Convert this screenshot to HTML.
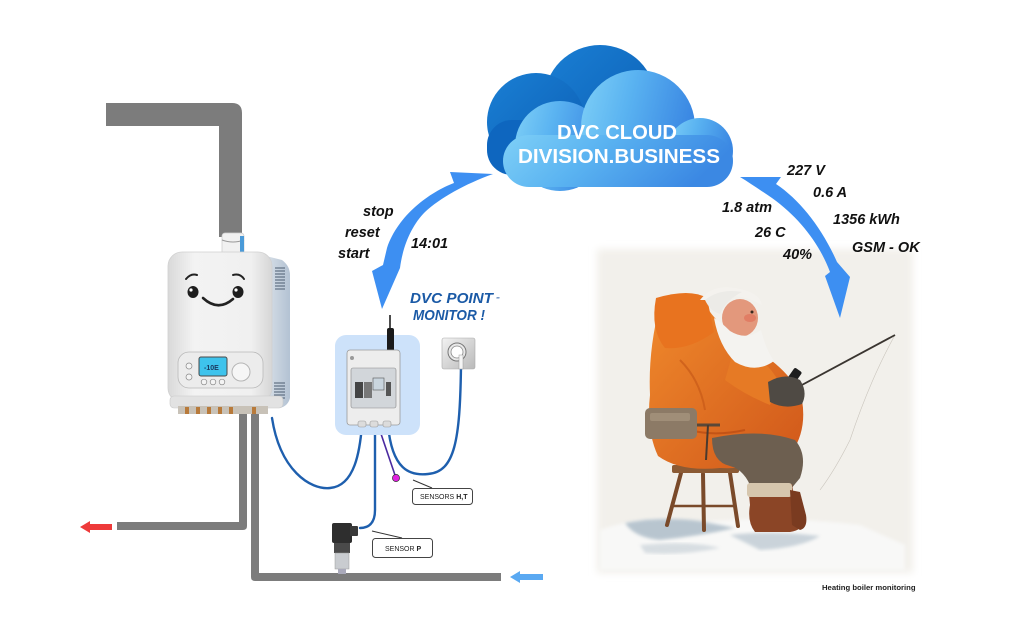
<!DOCTYPE html>
<html><head><meta charset="utf-8"><style>
html,body{margin:0;padding:0;background:#fff;}
svg{display:block;}
text{font-family:"Liberation Sans",Arial,sans-serif;}
</style></head><body>
<svg width="1024" height="623" viewBox="0 0 1024 623" xmlns="http://www.w3.org/2000/svg">
<defs>
 <linearGradient id="front" x1="0" y1="0" x2="1" y2="0.25">
  <stop offset="0" stop-color="#7fd0f7"/>
  <stop offset="0.45" stop-color="#5ab3f1"/>
  <stop offset="1" stop-color="#3b88e3"/>
 </linearGradient>
 <linearGradient id="back" x1="0" y1="0" x2="1" y2="1">
  <stop offset="0" stop-color="#1a7fd4"/>
  <stop offset="1" stop-color="#0b5db3"/>
 </linearGradient>
 <linearGradient id="body" x1="0" y1="0" x2="1" y2="0">
  <stop offset="0" stop-color="#d9d9d9"/>
  <stop offset="0.25" stop-color="#f3f3f3"/>
  <stop offset="0.8" stop-color="#f0f0f0"/>
  <stop offset="1" stop-color="#d6d6d6"/>
 </linearGradient>
 <linearGradient id="side" x1="0" y1="0" x2="1" y2="0">
  <stop offset="0" stop-color="#d8e0e8"/>
  <stop offset="1" stop-color="#b3c2d3"/>
 </linearGradient>
 <linearGradient id="outlet" x1="0" y1="0" x2="1" y2="1">
  <stop offset="0" stop-color="#f2f2f2"/>
  <stop offset="1" stop-color="#b9b9b9"/>
 </linearGradient>
 <linearGradient id="jacket" x1="0" y1="0" x2="1" y2="1">
  <stop offset="0" stop-color="#f08a2c"/>
  <stop offset="1" stop-color="#d0571a"/>
 </linearGradient>
 <filter id="soft" x="-5%" y="-5%" width="110%" height="110%"><feGaussianBlur stdDeviation="4"/></filter>
 <filter id="soft2"><feGaussianBlur stdDeviation="1.5"/></filter>
</defs>

<!-- ===== FISHERMAN PICTURE (drawn first, text over it) ===== -->
<g>
 <rect x="597" y="249" width="316" height="324" fill="#f2f0eb" filter="url(#soft)"/>
 <path d="M600 530 Q640 515 700 522 Q780 515 860 525 L905 545 L905 570 L600 570 Z" fill="#f8f8f7" filter="url(#soft2)"/>
 <path d="M625 523 Q660 516 700 521 L735 528 Q700 536 660 540 Q635 538 625 523 Z" fill="#a9b9c6" opacity="0.8" filter="url(#soft2)"/>
 <path d="M730 535 Q770 530 820 536 Q800 548 760 550 Z" fill="#b7c4cf" opacity="0.7" filter="url(#soft2)"/>
 <path d="M640 545 Q690 540 720 548 Q680 556 645 553 Z" fill="#c2ccd4" opacity="0.6" filter="url(#soft2)"/>
 <path d="M895 335 Q870 380 850 440 Q835 470 820 490" stroke="#c9c4bc" stroke-width="0.6" fill="none"/>
 <g stroke="#7a4a2a" stroke-width="4" stroke-linecap="round">
  <line x1="681" y1="473" x2="667" y2="525"/>
  <line x1="703" y1="474" x2="704" y2="530"/>
  <line x1="730" y1="473" x2="738" y2="526"/>
  <line x1="673" y1="506" x2="735" y2="506" stroke-width="2.5"/>
 </g>
 <rect x="672" y="465" width="67" height="8" rx="2" fill="#8b5a34"/>
 <path d="M660 305 Q680 292 702 300 Q720 330 748 345 Q792 370 802 400 Q807 430 792 452 Q760 470 720 468 Q680 472 658 456 Q646 430 650 395 Q648 350 660 305 Z" fill="url(#jacket)"/>
 <path d="M656 298 Q690 288 707 298 L714 332 Q690 350 665 348 Q650 330 656 298 Z" fill="#e8731f"/>
 <path d="M665 420 Q700 440 745 430" stroke="#b84a12" stroke-width="2" fill="none" opacity="0.7"/>
 <path d="M680 360 Q700 380 705 410" stroke="#c85a18" stroke-width="2" fill="none" opacity="0.7"/>
 <path d="M735 345 Q770 360 780 385 L770 405 Q745 395 725 380 Z" fill="#e67a25"/>
 <rect x="645" y="408" width="52" height="31" rx="5" fill="#8c7a66"/>
 <rect x="650" y="413" width="40" height="8" rx="2" fill="#a08e78"/>
 <line x1="697" y1="425" x2="720" y2="425" stroke="#5a4838" stroke-width="3"/>
 <line x1="708" y1="425" x2="706" y2="460" stroke="#4a3a2e" stroke-width="2"/>
 <path d="M712 438 Q760 428 795 440 Q808 455 800 478 L790 490 L752 490 Q745 470 730 466 Q712 462 712 438 Z" fill="#6d5f50"/>
 <path d="M748 484 L792 484 L795 505 L803 515 Q806 530 790 532 L755 532 Q747 522 750 505 Z" fill="#8b4526"/>
 <rect x="747" y="483" width="45" height="14" rx="3" fill="#d6c6ad"/>
 <path d="M790 490 L800 492 L806 515 Q808 528 800 530 L792 525 Z" fill="#7a3b20"/>
 <line x1="800" y1="386" x2="895" y2="335" stroke="#3a3530" stroke-width="1.8"/>
 <rect x="789" y="368" width="9" height="18" rx="2" fill="#1e1e1e" transform="rotate(35 793 377)"/>
 <path d="M768 382 Q785 372 800 380 Q808 392 802 404 Q785 410 770 402 Z" fill="#4f4a44"/>
 <path d="M700 300 Q712 284 735 288 Q760 292 762 305 L752 300 Q730 292 712 300 Z" fill="#f4f2ee"/>
 <ellipse cx="740" cy="318" rx="18" ry="19" fill="#e3987c"/>
 <ellipse cx="750" cy="318" rx="6" ry="4" fill="#e06a55" opacity="0.6"/>
 <path d="M714 318 Q719 346 735 362 Q756 374 774 361 Q766 350 761 330 Q746 341 730 331 Q721 322 714 318 Z" fill="#f4f3f0"/>
 <path d="M705 300 Q720 288 742 292 Q726 300 720 314 Q710 311 705 300 Z" fill="#ecebe7"/>
 <circle cx="752" cy="312" r="1.5" fill="#3a2a20"/>
</g>

<!-- ===== CLOUD ===== -->
<g>
 <circle cx="600" cy="101" r="56" fill="url(#back)"/>
 <circle cx="536" cy="122" r="49" fill="url(#back)"/>
 <rect x="487" y="120" width="120" height="55" rx="25" fill="#0e66bf"/>
 <circle cx="560" cy="146" r="45" fill="url(#front)"/>
 <circle cx="638" cy="127" r="57" fill="url(#front)"/>
 <circle cx="700" cy="151" r="33" fill="url(#front)"/>
 <rect x="503" y="135" width="230" height="52" rx="26" fill="url(#front)"/>
 <text x="617" y="139" text-anchor="middle" font-size="20" font-weight="bold" fill="#fff" textLength="120" lengthAdjust="spacingAndGlyphs">DVC CLOUD</text>
 <text x="619" y="163" text-anchor="middle" font-size="20" font-weight="bold" fill="#fff" textLength="202" lengthAdjust="spacingAndGlyphs">DIVISION.BUSINESS</text>
</g>

<!-- ===== ARROWS ===== -->
<path d="M493 174 L450 172 L454 183 C430 192,398 215,387 248 L383 265 L372 271 L382 309 L400 268 C403 245,412 225,425 212 C440 198,465 184,493 174 Z" fill="#3d8ff2"/>
<path d="M740 177 L781 177 L776 184 C800 200,822 228,837 262 L850 277 L840 318 L825 276 L830 272 C820 245,800 218,772 198 C760 190,750 183,740 177 Z" fill="#3d8ff2"/>

<!-- ===== LABELS ===== -->
<g font-size="14.5" font-weight="bold" font-style="italic" fill="#111">
 <text x="363" y="216">stop</text>
 <text x="345" y="237">reset</text>
 <text x="338" y="258">start</text>
 <text x="411" y="248">14:01</text>
 <text x="787" y="175">227 V</text>
 <text x="813" y="197">0.6 A</text>
 <text x="833" y="224">1356 kWh</text>
 <text x="852" y="252">GSM - OK</text>
 <text x="722" y="212">1.8 atm</text>
 <text x="755" y="237">26 C</text>
 <text x="783" y="259">40%</text>
</g>
<g font-weight="bold" font-style="italic" fill="#1b5aa6">
 <text x="410" y="303" font-size="15" textLength="83" lengthAdjust="spacingAndGlyphs">DVC POINT</text>
 <text x="496" y="301" font-size="12" fill="#6a8fc0">-</text>
 <text x="413" y="320" font-size="14.5" textLength="72" lengthAdjust="spacingAndGlyphs">MONITOR !</text>
</g>

<!-- ===== PIPES ===== -->
<g fill="#7c7c7c">
 <path d="M106 103 L232 103 Q242 103 242 113 L242 237 L219 237 L219 126 L106 126 Z"/>
 <path d="M239 408 L247 408 L247 526 Q247 530 243 530 L117 530 L117 522 L239 522 Z"/>
 <path d="M251 408 L259 408 L259 573 L501 573 L501 581 L255 581 Q251 581 251 577 Z"/>
</g>
<path d="M80 527 L90 521 L90 524 L112 524 L112 530 L90 530 L90 533 Z" fill="#ee3a3a"/>
<path d="M510 577 L520 571 L520 574 L543 574 L543 580 L520 580 L520 583 Z" fill="#5aa9f2"/>

<!-- ===== BOILER ===== -->
<g>
 <rect x="222" y="233" width="22" height="23" rx="3" fill="#f1f1f1" stroke="#cfcfcf" stroke-width="0.8"/>
 <path d="M222 240 Q233 244 244 240" stroke="#999" stroke-width="1" fill="none"/>
 <rect x="240" y="236" width="4" height="16" fill="#4a9ad8"/>
 <path d="M266 256 L282 260 Q290 266 290 275 L290 398 Q288 406 280 408 L266 405 Z" fill="url(#side)"/>
 <g stroke="#4b5c70" stroke-width="1">
  <path d="M275 268h10M275 271h10M275 274h10M275 277h10M275 280h10M275 283h10M275 286h10M275 289h10"/>
  <path d="M274 383h11M274 386h11M274 389h11M274 392h11M274 395h11M274 398h11"/>
 </g>
 <rect x="168" y="252" width="104" height="150" rx="14" fill="url(#body)" stroke="#d0d0d0" stroke-width="0.8"/>
 <rect x="170" y="396" width="113" height="12" rx="4" fill="#e2e2e2" stroke="#c8c8c8" stroke-width="0.6"/>
 <rect x="178" y="406" width="90" height="8" fill="#c8c2b8"/>
 <g fill="#b87a3a">
  <rect x="185" y="407" width="4" height="7"/><rect x="196" y="407" width="4" height="7"/><rect x="207" y="407" width="4" height="7"/>
  <rect x="218" y="407" width="4" height="7"/><rect x="229" y="407" width="4" height="7"/><rect x="252" y="407" width="4" height="7"/>
 </g>
 <path d="M186 279 Q191 273 197 275" stroke="#222" stroke-width="2" fill="none" stroke-linecap="round"/>
 <path d="M233 275 Q240 273 244 279" stroke="#222" stroke-width="2" fill="none" stroke-linecap="round"/>
 <ellipse cx="193" cy="292" rx="5.5" ry="6" fill="#1e1e1e"/>
 <ellipse cx="238" cy="292" rx="5.5" ry="6" fill="#1e1e1e"/>
 <circle cx="191" cy="290" r="1.6" fill="#fff"/><circle cx="236" cy="290" r="1.6" fill="#fff"/>
 <path d="M203 298 Q218 312 233 299" stroke="#222" stroke-width="2.6" fill="none" stroke-linecap="round"/>
 <rect x="178" y="352" width="85" height="36" rx="11" fill="#ececec" stroke="#b8b8b8" stroke-width="0.8"/>
 <rect x="199" y="357" width="28" height="19" rx="2" fill="#3ec3ec" stroke="#4a4a4a" stroke-width="1"/>
 <text x="204" y="370" font-size="7" font-weight="bold" fill="#1a3a60">-10E</text>
 <circle cx="241" cy="372" r="9" fill="#f6f6f6" stroke="#b5b5b5"/>
 <g fill="#f4f4f4" stroke="#888" stroke-width="0.7">
  <circle cx="189" cy="366" r="3"/><circle cx="189" cy="377" r="3"/>
  <circle cx="204" cy="382" r="2.8"/><circle cx="213" cy="382" r="2.8"/><circle cx="222" cy="382" r="2.8"/>
 </g>
</g>

<!-- ===== CABLES ===== -->
<g fill="none" stroke="#1e5fae" stroke-width="2.4" stroke-linecap="round">
 <path d="M272 418 C280 470,310 490,330 488 C355 486,360 450,362 425"/>
 <path d="M375 425 L375 510 C375 524,368 528,360 528"/>
 <path d="M388 425 C392 470,410 476,428 474 C455 472,460 440,461 366"/>
</g>
<path d="M378 425 L396 478" stroke="#4a2aa0" stroke-width="1.6" fill="none"/>
<circle cx="396" cy="478" r="3.6" fill="#e020e0" stroke="#333" stroke-width="0.7"/>

<!-- ===== DVC BOX ===== -->
<rect x="335" y="335" width="85" height="100" rx="11" fill="#cde2fa"/>
<line x1="390" y1="315" x2="390" y2="330" stroke="#111" stroke-width="1.5"/>
<rect x="387" y="328" width="7" height="28" rx="2" fill="#1a1a1a"/>
<rect x="347" y="350" width="53" height="75" rx="3" fill="#ededed" stroke="#9a9a9a" stroke-width="0.8"/>
<rect x="351" y="368" width="45" height="40" rx="2" fill="#d2d6da" stroke="#888" stroke-width="0.6"/>
<rect x="355" y="382" width="8" height="16" fill="#444"/>
<rect x="364" y="382" width="8" height="16" fill="#777"/>
<rect x="373" y="378" width="11" height="12" fill="#c9d5de" stroke="#555" stroke-width="0.6"/>
<rect x="386" y="382" width="5" height="14" fill="#555"/>
<circle cx="352" cy="358" r="2" fill="#999"/>
<g fill="#dcdcdc" stroke="#999" stroke-width="0.6">
 <rect x="358" y="421" width="8" height="6" rx="2"/><rect x="370" y="421" width="8" height="6" rx="2"/><rect x="383" y="421" width="8" height="6" rx="2"/>
</g>

<rect x="442" y="338" width="33" height="31" rx="2" fill="url(#outlet)" stroke="#aaa" stroke-width="0.6"/>
<circle cx="457" cy="352" r="9" fill="#e8e8e8" stroke="#777" stroke-width="1"/>
<circle cx="457" cy="352" r="6" fill="#fff" stroke="#888" stroke-width="0.8"/>
<rect x="459" y="355" width="4" height="14" fill="#f5f5f5" stroke="#999" stroke-width="0.5"/>

<rect x="332" y="523" width="20" height="20" rx="2" fill="#2e2e2e"/>
<rect x="350" y="526" width="8" height="10" rx="1" fill="#3a3a3a"/>
<rect x="334" y="543" width="16" height="10" fill="#4a4a4a"/>
<rect x="335" y="553" width="14" height="16" fill="#c9ccd0" stroke="#999" stroke-width="0.5"/>
<rect x="338" y="569" width="8" height="5" fill="#aab"/>

<line x1="372" y1="531" x2="402" y2="538" stroke="#333" stroke-width="1"/>
<rect x="372.5" y="538.5" width="60" height="19" rx="3" fill="#fff" stroke="#444" stroke-width="1"/>
<text x="385" y="551" font-size="7" fill="#222">SENSOR <tspan font-weight="bold">P</tspan></text>
<line x1="413" y1="480" x2="432" y2="488" stroke="#333" stroke-width="1"/>
<rect x="412.5" y="488.5" width="60" height="16" rx="3" fill="#fff" stroke="#444" stroke-width="1"/>
<text x="420" y="499" font-size="7" fill="#222">SENSORS <tspan font-weight="bold">H,T</tspan></text>

<text x="822" y="590" font-size="7.7" font-weight="bold" fill="#222">Heating boiler monitoring</text>
</svg>
</body></html>
